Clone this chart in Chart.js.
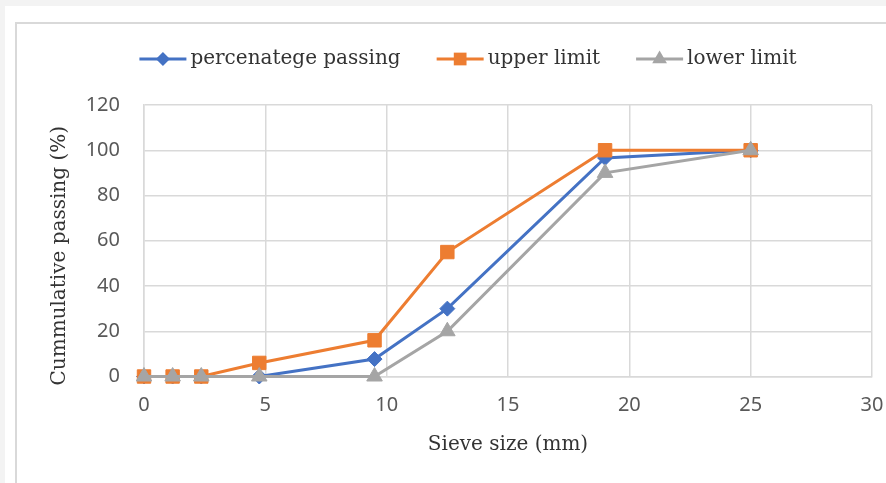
<!DOCTYPE html>
<html lang="en">
<head>
  <meta charset="UTF-8">
  <title>Grading curve</title>
  <script src="https://cdn.jsdelivr.net/npm/chart.js"></script>
  <style>
    body {
      margin: 0;
      width: 886px;
      height: 483px;
      overflow: hidden;
      position: relative;
      background: #f3f3f3;
    }
    .sheet {
      position: absolute;
      left: 5px;
      top: 6px;
      width: 900px;
      height: 500px;
      background: #ffffff;
    }
    .frame {
      position: absolute;
      left: 15px;
      top: 22px;
      width: 900px;
      height: 500px;
      border: 2px solid #d9d9d9;
    }
    .chart-box {
      position: absolute;
      left: 0;
      top: 0;
      width: 886px;
      height: 483px;
    }
  </style>
</head>
<body>
  <div class="sheet"></div>
  <div class="frame"></div>
  <div class="chart-box">
    <canvas id="grading" width="886" height="483"></canvas>
  </div>

  <script>
    // sieve sizes (mm) and cumulative % passing
    const sieveSizes = [0, 1.18, 2.36, 4.75, 9.5, 12.5, 19, 25];
    const percentPassing = [0, 0, 0, 0, 7.7, 30, 96.6, 100];
    const upperLimit = [0, 0, 0, 6, 16, 55, 100, 100];
    const lowerLimit = [0, 0, 0, 0, 0, 20, 90, 100];

    const seriesNames = ['percenatege passing', 'upper limit', 'lower limit'];
    const xTitle = 'Sieve size (mm)';
    const yTitle = 'Cummulative passing (%)';

    const serif = "'DejaVu Serif', serif";
    const sans = "'Noto Sans', sans-serif";

    function toPoints(values) {
      return sieveSizes.map((x, i) => ({ x: x, y: values[i] }));
    }

    function series(label, values, color, style, radius, order) {
      return {
        label: label,
        data: toPoints(values),
        borderColor: color,
        backgroundColor: color,
        borderWidth: 3,
        pointStyle: style,
        pointRadius: radius,
        pointBorderWidth: 1,
        pointBackgroundColor: color,
        pointBorderColor: color,
        tension: 0,
        clip: false,
        order: order
      };
    }

    const datasets = [
      series(seriesNames[0], percentPassing, '#4472c4', 'rectRot', 7.5, 3),
      series(seriesNames[1], upperLimit, '#ed7d31', 'rect', 9.5, 2),
      series(seriesNames[2], lowerLimit, '#a5a5a5', 'triangle', 9, 1)
    ];

    // small marker used in the legend
    function marker(ctx, style, x, y, r) {
      ctx.beginPath();
      if (style === 'rectRot') {
        ctx.moveTo(x, y - r); ctx.lineTo(x + r, y); ctx.lineTo(x, y + r); ctx.lineTo(x - r, y);
      } else if (style === 'rect') {
        const h = r * Math.SQRT1_2;
        ctx.rect(x - h, y - h, 2 * h, 2 * h);
      } else {
        ctx.moveTo(x, y - r);
        ctx.lineTo(x + r * 0.866, y + r * 0.5);
        ctx.lineTo(x - r * 0.866, y + r * 0.5);
      }
      ctx.closePath();
      ctx.fill();
    }

    // legend with line + marker, and both axis titles
    const decorations = {
      id: 'decorations',
      afterDraw(chart) {
        const ctx = chart.ctx;
        const area = chart.chartArea;
        const textColor = '#333333';
        ctx.save();

        ctx.font = '20px ' + serif;
        ctx.textBaseline = 'middle';
        const lineLen = 47, gap = 4, itemGap = 36;
        const widths = chart.data.datasets.map(d => ctx.measureText(d.label).width);
        const total = widths.reduce((a, w) => a + lineLen + gap + w, 0) + itemGap * (widths.length - 1);
        let x = 468 - total / 2;
        const y = 59;
        chart.data.datasets.forEach((d, i) => {
          ctx.strokeStyle = d.borderColor;
          ctx.lineWidth = 3;
          ctx.beginPath();
          ctx.moveTo(x, y);
          ctx.lineTo(x + lineLen, y);
          ctx.stroke();
          ctx.fillStyle = d.borderColor;
          marker(ctx, d.pointStyle, x + lineLen / 2, y, d.pointRadius - 0.5);
          ctx.fillStyle = textColor;
          ctx.textAlign = 'left';
          ctx.fillText(d.label, x + lineLen + gap, y);
          x += lineLen + gap + widths[i] + itemGap;
        });

        ctx.fillStyle = textColor;
        ctx.textAlign = 'center';
        ctx.fillText(xTitle, (area.left + area.right) / 2, area.bottom + 68);

        ctx.translate(area.left - 84, (area.top + area.bottom) / 2 + 15);
        ctx.rotate(-Math.PI / 2);
        ctx.fillText(yTitle, 0, 0);
        ctx.restore();
      }
    };

    new Chart(document.getElementById('grading'), {
      type: 'line',
      data: { datasets: datasets },
      plugins: [decorations],
      options: {
        responsive: false,
        animation: false,
        layout: { padding: { top: 105, right: 14, left: 0, bottom: 0 } },
        plugins: {
          legend: { display: false },
          tooltip: { enabled: false }
        },
        scales: {
          x: {
            type: 'linear',
            min: 0,
            max: 30,
            afterFit(scale) {
              scale.height = 106.5;
              scale.paddingLeft = 0;
              scale.paddingRight = 0;
            },
            ticks: { stepSize: 5, padding: 17, color: '#595959', font: { family: sans, size: 20 } },
            grid: { color: '#d9d9d9', lineWidth: 1.5, drawTicks: false },
            border: { color: '#d9d9d9', width: 1.5 }
          },
          y: {
            min: 0,
            max: 120,
            afterFit(scale) {
              scale.width = 144;
              scale.paddingTop = 0;
              scale.paddingBottom = 0;
            },
            ticks: { stepSize: 20, padding: 24, color: '#595959', font: { family: sans, size: 20 } },
            grid: { color: '#d9d9d9', lineWidth: 1.5, drawTicks: false },
            border: { color: '#d9d9d9', width: 1.5 }
          }
        }
      }
    });
  </script>
</body>
</html>
